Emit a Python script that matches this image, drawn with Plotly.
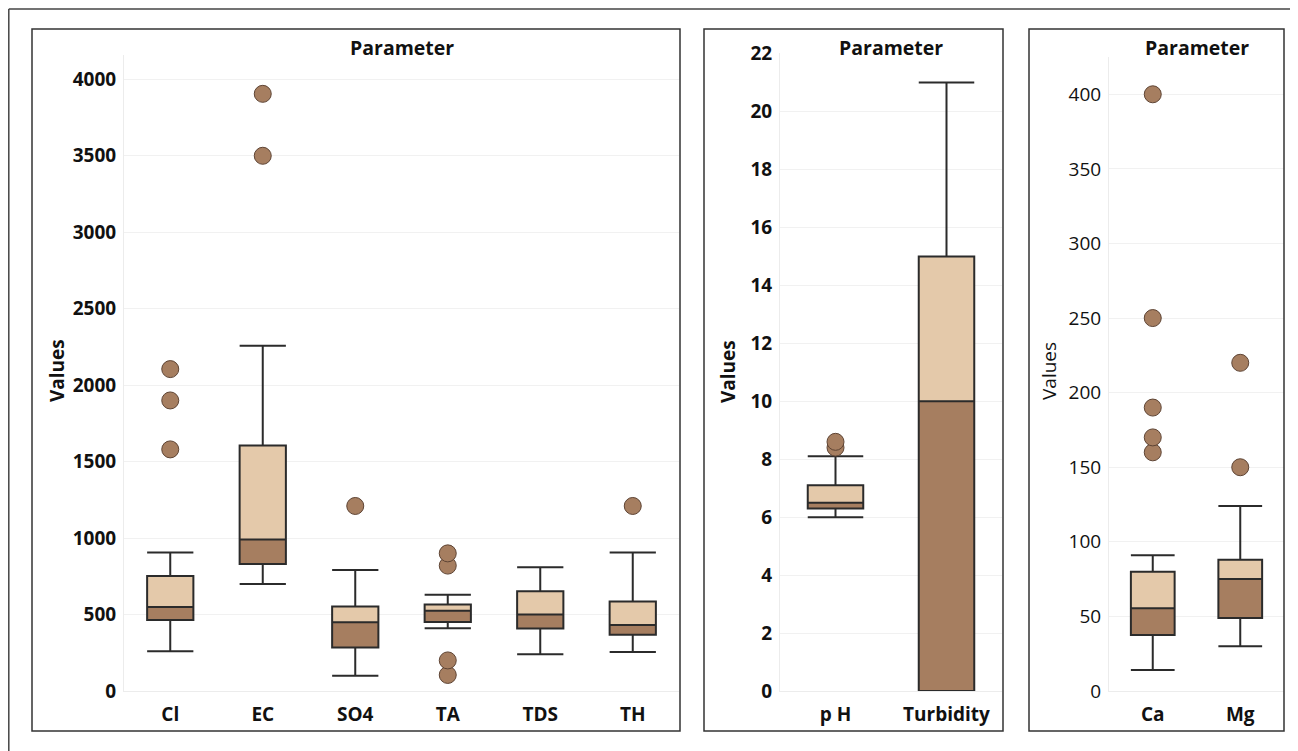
import plotly.graph_objects as go

# ---------------- data ----------------
cats1 = ["Cl", "EC", "SO4", "TA", "TDS", "TH"]
low1 = [260, 700, 100, 410, 240, 255]
q1_1 = [465, 830, 285, 452, 408, 368]
med1 = [550, 990, 450, 525, 500, 432]
q3_1 = [752, 1605, 553, 566, 652, 585]
up1 = [905, 2258, 792, 630, 810, 905]
out1_x = ["Cl", "Cl", "Cl", "EC", "EC", "SO4", "TA", "TA", "TA", "TA", "TH"]
out1_y = [1580, 1900, 2105, 3500, 3905, 1210, 820, 900, 105, 200, 1210]

cats2 = ["p H", "Turbidity"]
low2 = [6.0, 0.0]
q1_2 = [6.3, 0.0]
med2 = [6.5, 10.0]
q3_2 = [7.1, 15.0]
up2 = [8.1, 21.0]
out2_x = ["p H", "p H"]
out2_y = [8.4, 8.6]

cats3 = ["Ca", "Mg"]
low3 = [14, 30]
q1_3 = [37.5, 49]
med3 = [55.5, 75]
q3_3 = [80, 88]
up3 = [91, 124]
out3_x = ["Ca", "Ca", "Ca", "Ca", "Ca", "Mg", "Mg"]
out3_y = [160, 170, 190, 250, 400, 150, 220]

# ---------------- style ----------------
W, H = 1298, 751
OFF = 8  # page body margin offset
DARK = "#a67e60"
LIGHT = "#e4c9aa"
LINE = "#2b2b2b"
FONT = "Open Sans"


def px(x):
    return (x - OFF) / W


def py(y):
    return 1 - (y - OFF) / H


fig = go.Figure()


def add_panel(idx, cats, low, q1, med, q3, up, ox, oy):
    xa = "x" if idx == 1 else f"x{idx}"
    ya = "y" if idx == 1 else f"y{idx}"
    fig.add_trace(go.Bar(x=cats, y=[m - a for m, a in zip(med, q1)], base=q1,
                         width=0.5, marker=dict(color=DARK, line=dict(width=0)),
                         xaxis=xa, yaxis=ya, hoverinfo="skip", showlegend=False))
    fig.add_trace(go.Bar(x=cats, y=[b - m for b, m in zip(q3, med)], base=med,
                         width=0.5, marker=dict(color=LIGHT, line=dict(width=0)),
                         xaxis=xa, yaxis=ya, hoverinfo="skip", showlegend=False))
    fig.add_trace(go.Box(x=cats, q1=q1, median=med, q3=q3, lowerfence=low,
                         upperfence=up, width=0.5, whiskerwidth=1,
                         fillcolor="rgba(0,0,0,0)", line=dict(color=LINE, width=2),
                         boxpoints=False, xaxis=xa, yaxis=ya,
                         hoverinfo="skip", showlegend=False))
    fig.add_trace(go.Scatter(x=ox, y=oy, mode="markers",
                             marker=dict(size=17, color=DARK,
                                         line=dict(color="#5e4434", width=1)),
                             xaxis=xa, yaxis=ya, hoverinfo="skip", showlegend=False))


add_panel(1, cats1, low1, q1_1, med1, q3_1, up1, out1_x, out1_y)
add_panel(2, cats2, low2, q1_2, med2, q3_2, up2, out2_x, out2_y)
add_panel(3, cats3, low3, q1_3, med3, q3_3, up3, out3_x, out3_y)

xcommon = dict(type="category", showgrid=False, showline=True, linecolor="#ececec",
               linewidth=1, ticks="", ticklabelstandoff=6, fixedrange=True,
               automargin=False,
               tickfont=dict(family=FONT, size=19, color="#111", weight="bold"))


def ycommon(bold):
    return dict(showgrid=True, gridcolor="#f1f1f1", gridwidth=1, zeroline=False,
                showline=True, linecolor="#ececec", linewidth=1, ticks="",
                ticklabelstandoff=3, tickformat="d", fixedrange=True,
                automargin=False,
                tickfont=dict(family=FONT, size=19, color="#111",
                              weight="bold" if bold else "normal"))


fig.update_layout(
    width=W, height=H,
    margin=dict(l=0, r=0, t=0, b=0, pad=0, autoexpand=False),
    paper_bgcolor="white", plot_bgcolor="white",
    barmode="overlay", boxmode="overlay", showlegend=False,
    xaxis=dict(domain=[px(124), px(679)], anchor="y",
               range=[-0.5, 5.5], **xcommon),
    yaxis=dict(domain=[py(691), py(55)], anchor="x", range=[0, 4159],
               dtick=500, **ycommon(True)),
    xaxis2=dict(domain=[px(780), px(1002)], anchor="y2",
                range=[-0.5, 1.5], **xcommon),
    yaxis2=dict(domain=[py(691), py(53)], anchor="x2", range=[0, 22.02],
                dtick=2, **ycommon(True)),
    xaxis3=dict(domain=[px(1109), px(1284)], anchor="y3",
                range=[-0.5, 1.5], **xcommon),
    yaxis3=dict(domain=[py(691), py(57)], anchor="x3", range=[0, 425],
                dtick=50, **ycommon(False)),
)

# panel frames and outer frame
frames = [(32, 29, 680, 731), (704, 29, 1003, 731), (1029, 29, 1284, 731)]
for x0, y0, x1, y1 in frames:
    fig.add_shape(type="rect", xref="paper", yref="paper",
                  x0=px(x0), y0=py(y0), x1=px(x1), y1=py(y1),
                  line=dict(color="#333", width=1.5), layer="above")
fig.add_shape(type="line", xref="paper", yref="paper", x0=px(8.8), y0=py(9),
              x1=px(1310), y1=py(9), line=dict(color="#444", width=1.5))
fig.add_shape(type="line", xref="paper", yref="paper", x0=px(8.8), y0=py(9),
              x1=px(8.8), y1=py(770), line=dict(color="#444", width=1.5))

# headers and axis titles
for cx in (402, 891, 1197):
    fig.add_annotation(text="Parameter", xref="paper", yref="paper",
                       x=px(cx), y=py(47), showarrow=False,
                       xanchor="center", yanchor="middle",
                       font=dict(family=FONT, size=19.5, color="#111", weight="bold"))
for cx, bold in ((57, True), (728, True), (1049, False)):
    fig.add_annotation(text="Values", xref="paper", yref="paper",
                       x=px(cx), y=py(371), showarrow=False, textangle=-90,
                       xanchor="center", yanchor="middle",
                       font=dict(family=FONT, size=19, color="#111",
                                 weight="bold" if bold else "normal"))

fig.write_html("out.html")
